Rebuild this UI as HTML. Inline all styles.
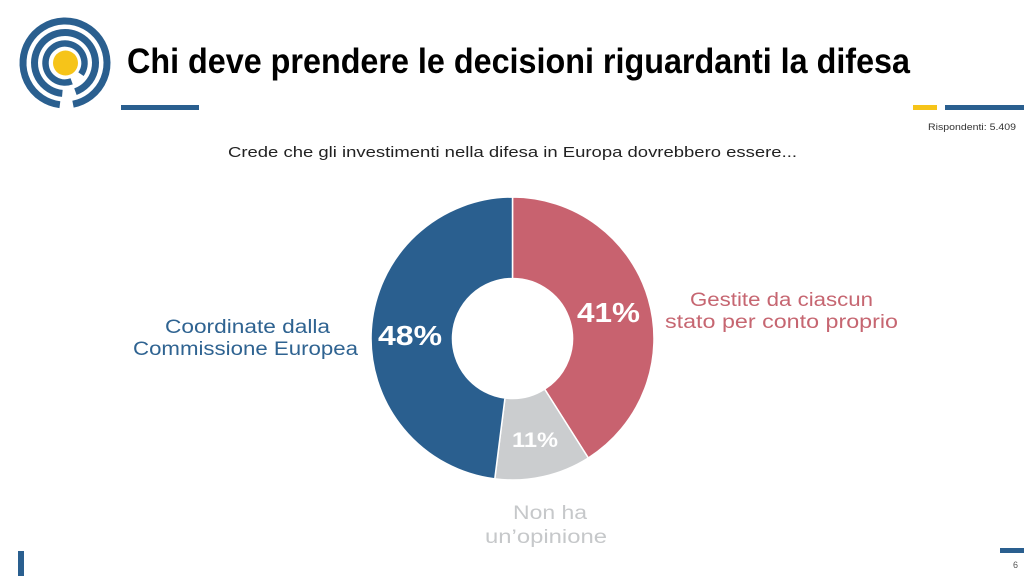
<!DOCTYPE html>
<html>
<head>
<meta charset="utf-8">
<style>
html,body{margin:0;padding:0;background:#fff;}
svg{display:block;}
</style>
</head>
<body>
<svg width="1024" height="576" viewBox="0 0 1024 576" xmlns="http://www.w3.org/2000/svg">
<rect x="0" y="0" width="1024" height="576" fill="#ffffff"/>

<!-- Logo -->
<g fill="none" stroke="#2a5f8f" stroke-width="7">
  <path d="M59.88,104.69 A42,42 0 1 1 73.01,104.23"/>
  <path d="M62.34,93.38 A30.5,30.5 0 1 1 75.43,91.66"/>
  <path d="M71.67,81.32 A19.5,19.5 0 1 1 80.97,74.18" stroke-width="6.5"/>
</g>
<circle cx="65.5" cy="63" r="12.5" fill="#f6c419"/>

<!-- Title -->
<text x="127" y="73" font-family="'Liberation Sans', sans-serif" font-weight="bold" font-size="35" fill="#000" textLength="783" lengthAdjust="spacingAndGlyphs">Chi deve prendere le decisioni riguardanti la difesa</text>

<!-- Bars -->
<rect x="121" y="105" width="78" height="5" fill="#2a5f8f"/>
<rect x="913" y="105" width="24" height="5" fill="#f6c419"/>
<rect x="945" y="105" width="79" height="5" fill="#2a5f8f"/>
<rect x="18" y="551" width="6" height="25" fill="#2a5f8f"/>
<rect x="1000" y="548" width="24" height="5" fill="#2a5f8f"/>

<text x="928" y="130" font-family="'Liberation Sans', sans-serif" font-size="9.5" fill="#333" textLength="88" lengthAdjust="spacingAndGlyphs">Rispondenti: 5.409</text>
<text x="1013" y="568" font-family="'Liberation Sans', sans-serif" font-size="9" fill="#555">6</text>

<!-- Subtitle -->
<text x="228" y="157" font-family="'Liberation Sans', sans-serif" font-size="15" fill="#222" textLength="569" lengthAdjust="spacingAndGlyphs">Crede che gli investimenti nella difesa in Europa dovrebbero essere...</text>

<!-- Donut -->
<g stroke="#ffffff" stroke-width="1.5" stroke-linejoin="round">
  <path d="M512.5,197 A141.5,141.5 0 0 1 588.32,457.97 L544.65,389.16 A60,60 0 0 0 512.5,278.5 Z" fill="#c8626f"/>
  <path d="M588.32,457.97 A141.5,141.5 0 0 1 494.77,478.88 L504.98,398.03 A60,60 0 0 0 544.65,389.16 Z" fill="#cbcdcf"/>
  <path d="M494.77,478.88 A141.5,141.5 0 0 1 512.5,197 L512.5,278.5 A60,60 0 0 0 504.98,398.03 Z" fill="#2a5f8f"/>
</g>

<g font-family="'Liberation Sans', sans-serif" font-weight="bold" fill="#ffffff">
  <text x="577" y="322" font-size="28" textLength="63" lengthAdjust="spacingAndGlyphs">41%</text>
  <text x="378" y="345" font-size="28" textLength="64" lengthAdjust="spacingAndGlyphs">48%</text>
  <text x="512" y="447" font-size="21" textLength="46" lengthAdjust="spacingAndGlyphs">11%</text>
</g>

<!-- Category labels -->
<g font-family="'Liberation Sans', sans-serif" font-size="19">
  <text x="165" y="333" fill="#2f6391" textLength="165" lengthAdjust="spacingAndGlyphs">Coordinate dalla</text>
  <text x="133" y="355" fill="#2f6391" textLength="225" lengthAdjust="spacingAndGlyphs">Commissione Europea</text>
  <text x="690" y="306" fill="#c66671" textLength="183" lengthAdjust="spacingAndGlyphs">Gestite da ciascun</text>
  <text x="665" y="328" fill="#c66671" textLength="233" lengthAdjust="spacingAndGlyphs">stato per conto proprio</text>
  <text x="513" y="519" fill="#c6c8ca" textLength="74" lengthAdjust="spacingAndGlyphs">Non ha</text>
  <text x="485" y="543" fill="#c6c8ca" textLength="122" lengthAdjust="spacingAndGlyphs">un’opinione</text>
</g>
</svg>
</body>
</html>
